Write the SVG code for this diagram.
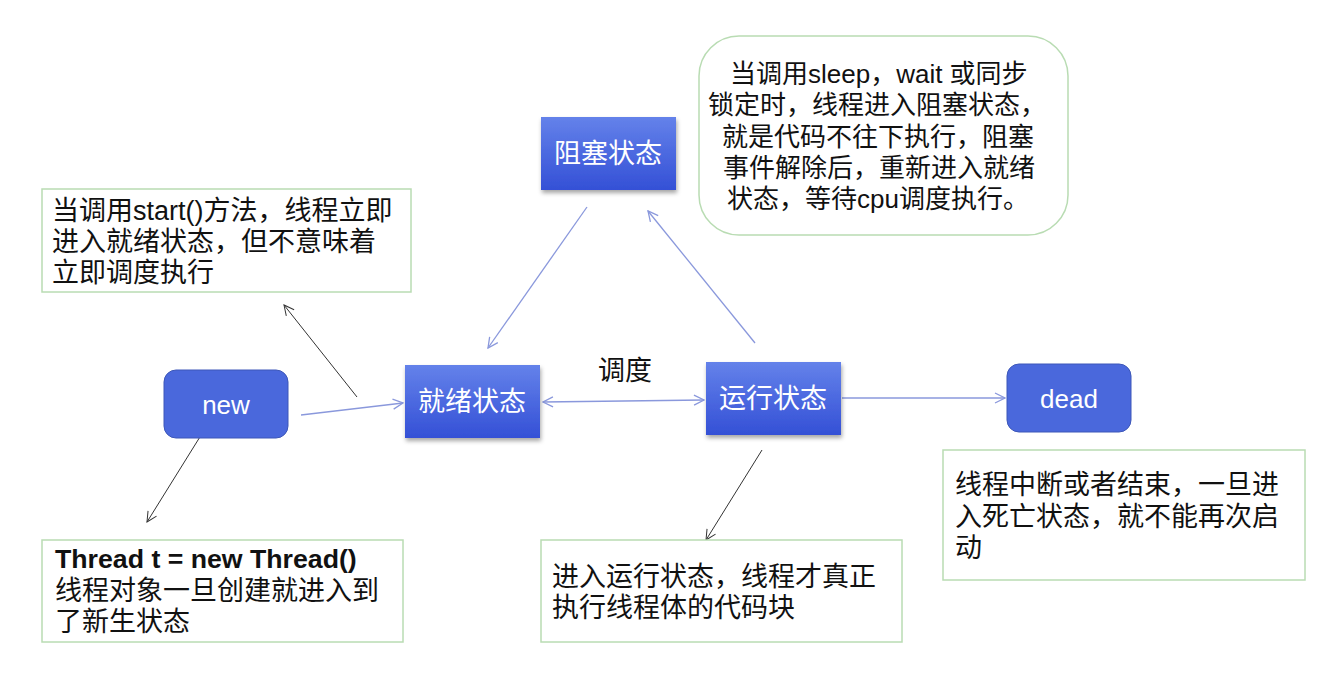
<svg xmlns="http://www.w3.org/2000/svg" width="1336" height="678" viewBox="0 0 1336 678">
<style>
.txt{font-family:"Liberation Sans","Noto Sans CJK SC",sans-serif;font-size:27px;fill:#111}
.lbl{font-family:"Liberation Sans","Noto Sans CJK SC",sans-serif;font-size:27px;fill:#fff;text-anchor:middle}
.box{fill:#fff;stroke:#b9dcb3;stroke-width:1.5}
.rnode{fill:#4a68dc;stroke:#3d57b8;stroke-width:1}
.snode{fill:url(#g);filter:url(#sh)}
.blue{stroke:#8a98dc;stroke-width:1.3;fill:none}
.black{stroke:#333;stroke-width:1;fill:none}
</style>
<defs>
<linearGradient id="g" x1="0" y1="0" x2="0" y2="1">
<stop offset="0" stop-color="#6482ea"/>
<stop offset="1" stop-color="#3450d6"/>
</linearGradient>
<filter id="sh" x="-10%" y="-10%" width="125%" height="130%">
<feDropShadow dx="1" dy="3" stdDeviation="2" flood-color="#000" flood-opacity="0.35"/>
</filter>
<marker id="ab" markerWidth="12" markerHeight="12" refX="11" refY="6" orient="auto-start-reverse" markerUnits="userSpaceOnUse">
<path d="M1,1 L11,6 L1,11" fill="none" stroke="#8a98dc" stroke-width="1.3"/>
</marker>
<marker id="ak" markerWidth="12" markerHeight="12" refX="11" refY="6" orient="auto-start-reverse" markerUnits="userSpaceOnUse">
<path d="M1,1 L11,6 L1,11" fill="none" stroke="#333" stroke-width="1"/>
</marker>
</defs>
<rect width="1336" height="678" fill="#fff"/>

<g id="connectors">
<line class="blue" x1="301" y1="415" x2="403" y2="403" marker-end="url(#ab)"/>
<line class="blue" x1="543" y1="402" x2="704" y2="400" marker-start="url(#ab)" marker-end="url(#ab)"/>
<line class="blue" x1="842" y1="398" x2="1005" y2="398" marker-end="url(#ab)"/>
<line class="blue" x1="587" y1="207" x2="488" y2="348" marker-end="url(#ab)"/>
<line class="blue" x1="755" y1="343" x2="648" y2="211" marker-end="url(#ab)"/>
<line class="black" x1="357" y1="397" x2="284" y2="305" marker-end="url(#ak)"/>
<line class="black" x1="203" y1="432" x2="147" y2="522" marker-end="url(#ak)"/>
<line class="black" x1="762" y1="450" x2="706" y2="540" marker-end="url(#ak)"/>
<text class="txt" x="598" y="380">调度</text>
</g>

<g id="new">
<rect class="rnode" x="164" y="370" width="124" height="68" rx="12"/>
<text class="lbl" x="226" y="414" style="font-size:26px">new</text>
</g>
<g id="ready">
<rect class="snode" x="405" y="365" width="135" height="73"/>
<text class="lbl" x="472" y="411">就绪状态</text>
</g>
<g id="blocked">
<rect class="snode" x="541" y="117" width="135" height="73"/>
<text class="lbl" x="608" y="163">阻塞状态</text>
</g>
<g id="running">
<rect class="snode" x="706" y="362" width="135" height="73"/>
<text class="lbl" x="773" y="408">运行状态</text>
</g>
<g id="dead">
<rect class="rnode" x="1007" y="364" width="124" height="68" rx="12"/>
<text class="lbl" x="1069" y="408" style="font-size:26px">dead</text>
</g>

<g id="note-start">
<rect class="box" x="42" y="189" width="369" height="103"/>
<text class="txt" x="52" y="220">当调用start()方法，线程立即</text>
<text class="txt" x="52" y="251">进入就绪状态，但不意味着</text>
<text class="txt" x="52" y="282">立即调度执行</text>
</g>
<g id="note-blocked">
<rect class="box" x="699" y="36" width="369" height="199" rx="40"/>
<text class="txt" x="730" y="83" style="font-size:26px">当调用sleep，wait 或同步</text>
<text class="txt" x="708" y="114" style="font-size:26px">锁定时，线程进入阻塞状态，</text>
<text class="txt" x="722" y="146" style="font-size:26px">就是代码不往下执行，阻塞</text>
<text class="txt" x="723" y="177" style="font-size:26px">事件解除后，重新进入就绪</text>
<text class="txt" x="727" y="208" style="font-size:26px">状态，等待cpu调度执行。</text>
</g>
<g id="note-new">
<rect class="box" x="42" y="540" width="361" height="102"/>
<text class="txt" x="55" y="568" style="font-weight:bold;font-size:26.7px">Thread t = new Thread()</text>
<text class="txt" x="55" y="600">线程对象一旦创建就进入到</text>
<text class="txt" x="55" y="631">了新生状态</text>
</g>
<g id="note-running">
<rect class="box" x="541" y="540" width="361" height="102"/>
<text class="txt" x="552" y="586">进入运行状态，线程才真正</text>
<text class="txt" x="552" y="617">执行线程体的代码块</text>
</g>
<g id="note-dead">
<rect class="box" x="943" y="450" width="362" height="130"/>
<text class="txt" x="955" y="494">线程中断或者结束，一旦进</text>
<text class="txt" x="955" y="526">入死亡状态，就不能再次启</text>
<text class="txt" x="955" y="557">动</text>
</g>
</svg>
